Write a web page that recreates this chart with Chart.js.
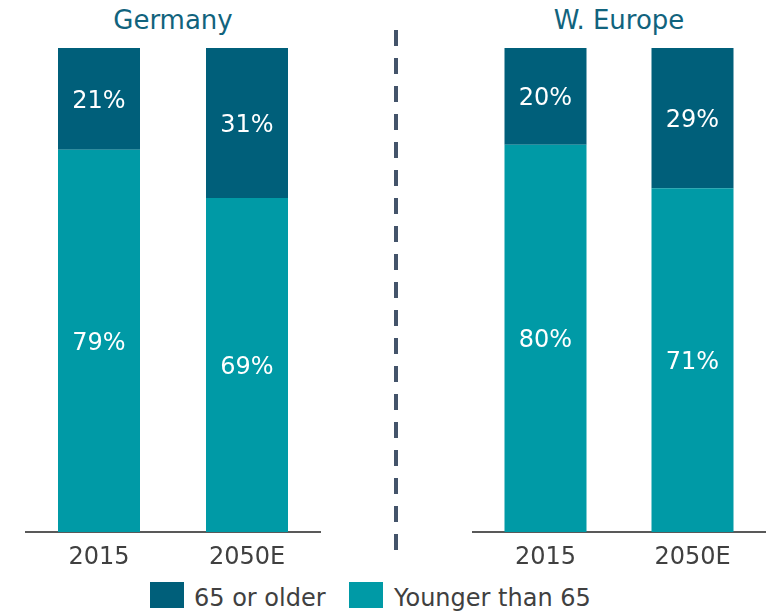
<!DOCTYPE html>
<html>
<head>
<meta charset="utf-8">
<script src="https://cdn.jsdelivr.net/npm/chart.js@4"></script>
<style>
  html, body { margin: 0; padding: 0; background: #ffffff; }
  #wrap { position: relative; width: 766px; height: 611px; overflow: hidden; font-family: "DejaVu Sans", sans-serif; }
  canvas { position: absolute; top: 0; }
  .title { position: absolute; top: 5px; font-size: 26px; line-height: 30px; color: #11637D; text-align: center; white-space: nowrap; }
  .sep { position: absolute; left: 394px; top: 30px; width: 4px; height: 520px;
         background: repeating-linear-gradient(to bottom, #44546A 0px, #44546A 16px, transparent 16px, transparent 28px); }
  .lg-box { position: absolute; top: 582px; width: 34px; height: 26px; }
  .lg-text { position: absolute; top: 583px; font-size: 24px; line-height: 30px; color: #404040; white-space: nowrap; }
</style>
</head>
<body>
<div id="wrap">
  <div class="title" style="left:25px;width:296px;">Germany</div>
  <div class="title" style="left:472px;width:294px;">W. Europe</div>
  <canvas id="c1" width="296" height="580" style="left:25px;"></canvas>
  <canvas id="c2" width="294" height="580" style="left:472px;"></canvas>
  <div class="sep"></div>
  <div class="lg-box" style="left:150px;background:#005F7A;"></div>
  <div class="lg-text" style="left:194px;">65 or older</div>
  <div class="lg-box" style="left:349px;background:#009AA6;"></div>
  <div class="lg-text" style="left:394px;">Younger than 65</div>
</div>
<script>
const categories = ["2015", "2050E"];
const germanyOlder = [21, 31];
const germanyYounger = [79, 69];
const europeOlder = [20, 29];
const europeYounger = [80, 71];

const colorOlder = "#005F7A";
const colorYounger = "#009AA6";

Chart.defaults.font.family = "'DejaVu Sans', sans-serif";

const labelPlugin = {
  id: "segLabels",
  afterDatasetsDraw(chart) {
    const ctx = chart.ctx;
    ctx.save();
    ctx.fillStyle = "#ffffff";
    ctx.font = "24px 'DejaVu Sans', sans-serif";
    ctx.textAlign = "center";
    ctx.textBaseline = "middle";
    chart.data.datasets.forEach((ds, i) => {
      const meta = chart.getDatasetMeta(i);
      meta.data.forEach((el, j) => {
        const y = (el.y + el.base) / 2;
        ctx.fillText(ds.data[j] + "%", el.x, y + 2.5);
      });
    });
    ctx.restore();
  }
};

function makeChart(id, younger, older, barPct) {
  return new Chart(document.getElementById(id), {
    type: "bar",
    data: {
      labels: categories,
      datasets: [
        { label: "Younger than 65", data: younger, backgroundColor: colorYounger, barPercentage: barPct, categoryPercentage: 1 },
        { label: "65 or older", data: older, backgroundColor: colorOlder, barPercentage: barPct, categoryPercentage: 1 }
      ]
    },
    options: {
      responsive: false,
      animation: false,
      devicePixelRatio: 1,
      layout: { padding: { top: 48, left: 0, right: 0, bottom: 0 } },
      plugins: { legend: { display: false }, tooltip: { enabled: false }, title: { display: false } },
      scales: {
        x: {
          stacked: true,
          grid: { display: false, drawTicks: false },
          border: { display: true, color: "#595959", width: 2 },
          ticks: { color: "#404040", font: { size: 24 }, padding: 11, maxRotation: 0 },
          afterFit(scale) { scale.height = 48; }
        },
        y: {
          stacked: true,
          display: false,
          min: 0,
          max: 100
        }
      }
    },
    plugins: [labelPlugin]
  });
}

makeChart("c1", germanyYounger, germanyOlder, 82 / 148);
makeChart("c2", europeYounger, europeOlder, 82 / 147);
</script>
</body>
</html>
